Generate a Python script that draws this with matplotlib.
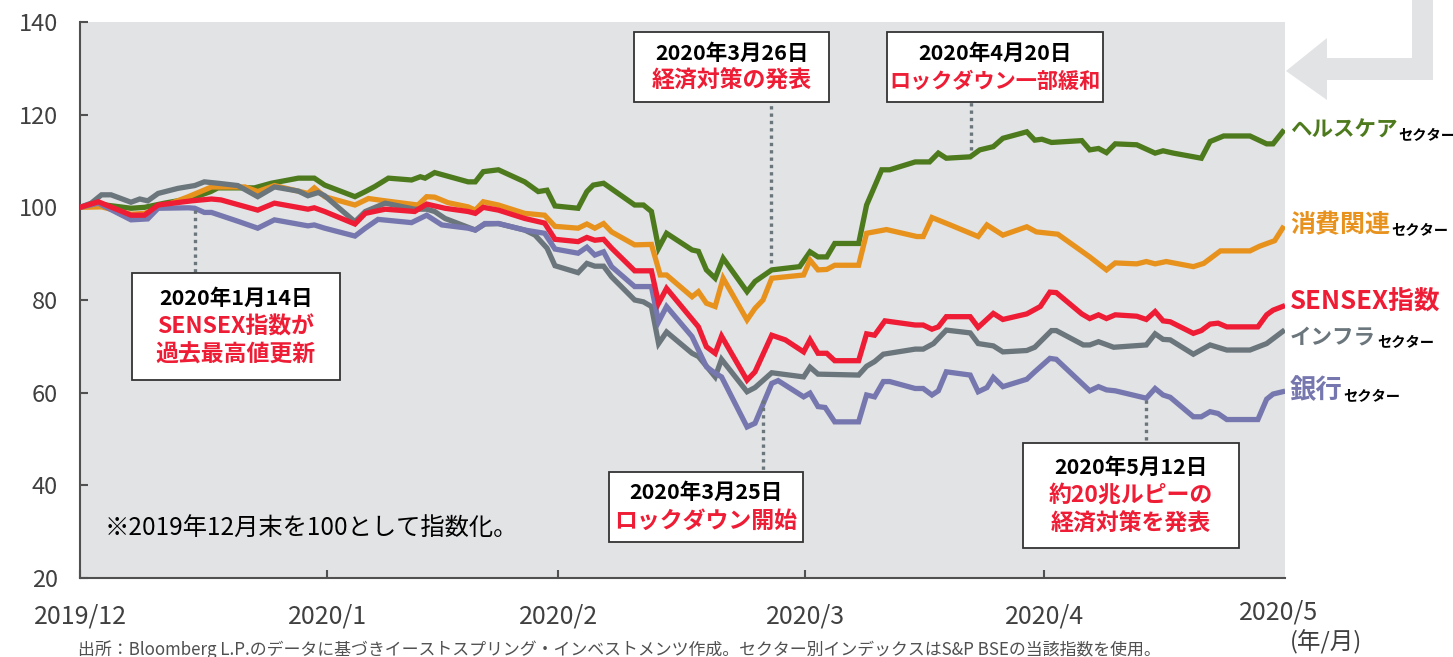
import matplotlib
matplotlib.use("Agg")
import matplotlib.pyplot as plt
from matplotlib.patches import Polygon, Rectangle

plt.rcParams['font.family'] = ['Noto Sans CJK JP', 'DejaVu Sans']

# x: days since 2019/12/31, y: index (2019/12 end = 100)
health_x = [0, 2.3, 6.4, 8.1, 10.6, 13.9, 16.4, 17.3, 21.9, 24.0, 27.4, 29.4, 30.7, 34.5, 35.8, 37.0,
            38.7, 41.6, 42.7, 43.3, 44.5, 48.7, 49.6, 50.6, 52.5, 55.8, 57.5, 58.6, 59.6, 62.5, 63.6,
            64.4, 65.7, 69.6, 70.7, 71.7, 72.6, 73.6, 76.8, 77.6, 78.6, 79.7, 80.7, 83.7, 84.7, 86.8,
            90.3, 91.6, 92.6, 93.7, 94.7, 97.7, 98.7, 100.6, 101.6, 104.8, 106.6, 107.7, 108.7, 111.7,
            112.9, 114.6, 115.8, 118.8, 119.8, 120.7, 121.9, 125.7, 126.7, 127.8, 128.8, 129.9, 132.6,
            134.9, 135.9, 137.2, 140.7, 141.8, 143.5, 146.8, 148.9, 149.7, 150.9]
health = [100, 100.7, 99.8, 100, 100.9, 101.9, 103.4, 104.2, 104.2, 105.2, 106.3, 106.3, 104.8, 102.3,
          103.4, 104.5, 106.3, 105.9, 106.6, 106.3, 107.5, 105.5, 105.5, 107.7, 108.1, 105.5, 103.4,
          103.7, 100.3, 99.8, 103.4, 104.8, 105.2, 100.5, 100.5, 99.1, 91.2, 94.4, 90.8, 90.5, 86.5,
          84.7, 89.0, 81.8, 84.0, 86.5, 87.2, 90.4, 89.3, 89.3, 92.2, 92.2, 100.5, 108.1, 108.1, 109.8,
          109.8, 111.7, 110.6, 110.9, 112.4, 113.1, 114.9, 116.3, 114.5, 114.7, 114.0, 114.4, 112.4,
          112.7, 111.8, 113.7, 113.5, 111.7, 112.2, 111.7, 110.6, 114.2, 115.4, 115.4, 113.7, 113.7, 116.3]

consumer_x = [0, 2.7, 6.4, 8.1, 13.6, 16.5, 20.7, 22.3, 24.4, 28.6, 29.4, 30.7, 34.5, 36.2, 38.3, 42.4,
              43.5, 44.5, 46.2, 48.7, 49.6, 50.6, 52.5, 55.8, 58.3, 59.6, 62.5, 63.6, 64.6, 65.7, 66.7,
              69.6, 71.7, 72.8, 73.6, 76.8, 77.6, 78.6, 79.7, 80.7, 83.7, 84.7, 85.7, 86.8, 90.8, 91.6,
              92.6, 93.7, 94.7, 97.7, 98.7, 101.2, 105.0, 105.8, 106.9, 109.2, 112.7, 113.8, 115.8, 118.8,
              120.0, 122.7, 126.7, 128.8, 129.9, 132.6, 133.8, 134.9, 136.3, 139.7, 141.0, 143.1, 146.8,
              148.0, 149.9, 150.9]
consumer = [100, 100.1, 98.5, 98.7, 102.3, 104.4, 104.4, 103.4, 104.7, 103.0, 104.2, 102.3, 100.5, 101.9,
            101.4, 100.5, 102.3, 102.2, 101.0, 100.1, 99.4, 101.2, 100.5, 98.7, 98.3, 95.9, 95.5, 96.4,
            95.5, 96.5, 94.7, 91.9, 92.0, 85.4, 85.4, 80.7, 81.8, 79.3, 78.6, 84.7, 75.7, 78.2, 80.0, 84.7,
            85.4, 88.6, 86.5, 86.6, 87.5, 87.5, 94.4, 95.2, 93.7, 93.7, 97.8, 96.2, 93.7, 96.2, 94.0, 95.8,
            94.7, 94.2, 89.3, 86.5, 88.0, 87.8, 88.3, 87.8, 88.3, 87.2, 87.9, 90.6, 90.6, 91.6, 92.8, 95.5]

sensex_x = [0, 2.3, 6.4, 8.1, 9.8, 14.0, 16.5, 17.7, 22.3, 24.4, 28.6, 29.4, 30.7, 34.5, 35.8, 38.3, 42.0,
            43.5, 45.8, 48.7, 49.6, 50.6, 52.5, 55.8, 58.3, 59.6, 62.5, 63.6, 64.6, 65.7, 66.7, 69.6, 71.7,
            72.6, 73.6, 77.6, 78.6, 79.7, 80.5, 83.7, 84.7, 86.8, 88.5, 90.8, 91.6, 92.6, 93.7, 94.7, 97.7,
            98.7, 99.7, 101.0, 104.8, 105.8, 106.9, 107.7, 108.7, 111.7, 112.7, 114.6, 115.8, 118.8, 120.5,
            121.7, 122.5, 125.7, 126.7, 127.8, 128.8, 129.9, 132.6, 133.8, 134.9, 135.9, 136.8, 139.7,
            140.7, 141.8, 142.8, 143.9, 147.8, 148.9, 149.7, 150.9]
sensex = [100, 101.2, 98.3, 98.3, 100.5, 101.4, 101.8, 101.6, 99.4, 100.9, 99.6, 99.9, 99.1, 96.4, 98.7,
          99.6, 99.1, 100.7, 99.8, 99.1, 98.7, 100.0, 99.4, 97.6, 96.6, 93.1, 92.6, 93.5, 92.9, 93.1, 91.2,
          86.3, 86.3, 79.3, 82.5, 74.2, 69.9, 68.5, 72.2, 62.7, 64.5, 72.4, 71.4, 68.8, 71.4, 68.5, 68.5,
          66.9, 66.9, 72.7, 72.4, 75.5, 74.6, 74.6, 73.7, 74.2, 76.4, 76.4, 74.1, 77.1, 75.8, 77.0, 78.6,
          81.7, 81.6, 77.0, 76.0, 76.8, 76.0, 76.8, 76.5, 75.8, 77.5, 75.5, 75.3, 72.8, 73.4, 74.8, 75.0,
          74.2, 74.2, 76.8, 77.8, 78.6]

infra_x = [0, 1.4, 2.7, 3.9, 6.4, 7.5, 8.5, 9.8, 12.3, 14.4, 15.6, 17.3, 19.8, 22.3, 24.4, 27.4, 28.6,
           29.9, 30.7, 34.5, 35.8, 38.3, 42.0, 43.5, 44.5, 45.8, 49.6, 50.8, 52.5, 55.8, 57.1, 58.6, 59.6,
           62.5, 63.6, 64.6, 65.7, 66.7, 69.6, 70.7, 71.7, 72.6, 73.6, 76.8, 77.6, 79.7, 80.5, 83.7, 84.7,
           86.8, 90.8, 91.6, 92.6, 97.7, 98.7, 99.7, 100.8, 104.8, 105.8, 107.1, 108.7, 111.7, 112.7,
           114.6, 115.8, 118.8, 119.8, 121.9, 122.5, 125.9, 126.7, 127.8, 129.7, 133.8, 134.9, 135.9,
           136.8, 139.7, 141.8, 143.9, 146.8, 148.9, 150.9]
infra = [100, 100.9, 102.7, 102.7, 101.1, 101.8, 101.4, 103.0, 104.1, 104.7, 105.5, 105.2, 104.7, 102.3,
         104.4, 103.5, 102.5, 103.2, 102.5, 96.9, 99.1, 100.9, 99.6, 99.6, 99.1, 97.6, 95.1, 96.4, 96.5,
         95.1, 94.0, 91.2, 87.4, 85.9, 87.9, 87.3, 87.3, 85.0, 80.0, 79.6, 78.6, 70.6, 73.1, 68.5, 67.8,
         63.4, 67.2, 60.2, 61.1, 64.3, 63.4, 65.5, 64.0, 63.8, 65.7, 66.7, 68.3, 69.4, 69.4, 70.6, 73.5,
         72.9, 70.6, 70.1, 68.8, 69.1, 69.8, 73.4, 73.4, 70.3, 70.3, 71.0, 69.8, 70.3, 72.7, 71.5, 71.4,
         68.3, 70.3, 69.2, 69.2, 70.6, 73.2]

bank_x = [0, 2.3, 6.4, 8.5, 9.8, 13.6, 14.4, 15.6, 16.5, 19.8, 22.3, 24.4, 28.6, 29.4, 30.7, 34.5, 35.8,
          37.4, 41.6, 43.5, 45.4, 48.7, 49.6, 50.8, 52.5, 55.8, 58.3, 59.6, 62.5, 63.6, 64.6, 65.7, 66.7,
          69.6, 71.7, 72.6, 73.6, 76.8, 78.6, 79.7, 80.5, 83.7, 84.7, 86.8, 87.6, 90.8, 91.6, 92.6, 93.5,
          94.7, 97.7, 98.7, 99.7, 100.8, 101.6, 104.8, 105.8, 106.9, 107.7, 108.7, 111.7, 112.7, 113.8,
          114.6, 115.8, 118.8, 119.8, 121.7, 122.5, 126.7, 127.8, 128.8, 129.9, 133.8, 134.9, 135.9,
          136.8, 139.7, 140.7, 141.8, 142.8, 143.9, 147.8, 148.9, 149.7, 150.9]
bank = [100, 100.9, 97.3, 97.5, 99.8, 99.9, 99.8, 98.9, 98.9, 97.0, 95.5, 97.3, 96.0, 96.2, 95.5, 93.8,
        95.5, 97.4, 96.7, 98.3, 96.2, 95.5, 95.1, 96.5, 96.5, 95.1, 94.4, 91.0, 90.1, 91.4, 89.7, 90.4,
        87.2, 82.9, 82.9, 75.3, 78.6, 72.1, 65.6, 64.2, 63.4, 52.6, 53.4, 62.0, 62.6, 59.1, 59.9, 57.0,
        56.8, 53.7, 53.7, 59.5, 59.1, 62.4, 62.4, 60.9, 60.9, 59.5, 60.4, 64.5, 63.8, 60.2, 61.1, 63.3,
        61.3, 62.9, 64.5, 67.4, 67.2, 60.4, 61.3, 60.6, 60.4, 58.8, 60.9, 59.5, 59.0, 54.8, 54.8, 55.9,
        55.5, 54.2, 54.2, 58.6, 59.7, 60.2]

month_ticks = [0, 31, 60, 91, 121]
month_labels = ["2019/12", "2020/1", "2020/2", "2020/3", "2020/4"]

# (day of event, date text, event lines)
events = [
    (14.4, "2020年1月14日", ["SENSEX指数が", "過去最高値更新"]),
    (86.7, "2020年3月26日", ["経済対策の発表"]),
    (111.8, "2020年4月20日", ["ロックダウン一部緩和"]),
    (85.7, "2020年3月25日", ["ロックダウン開始"]),
    (133.8, "2020年5月12日", ["約20兆ルピーの", "経済対策を発表"]),
]

GREEN, ORANGE, RED, GRAY, PURPLE = "#4E7A1E", "#E8921E", "#EE1C34", "#6A767C", "#7677AE"
W, H = 1453, 657


def fx(x, y):
    return x / W, 1 - y / H


fig = plt.figure(figsize=(14.53, 6.57), dpi=100)
ax = fig.add_axes([80 / W, 79 / H, 1205 / W, 556 / H])
ax.set_facecolor("#E2E3E5")

for xs, ys, c in [(health_x, health, GREEN), (consumer_x, consumer, ORANGE),
                  (infra_x, infra, GRAY), (bank_x, bank, PURPLE), (sensex_x, sensex, RED)]:
    ax.plot(xs, ys, color=c, lw=3.8, solid_joinstyle="miter", zorder=3)

ax.set_xlim(0, 151.2)
ax.set_ylim(20, 140)
ax.set_yticks(range(20, 141, 20))
ax.set_xticks(month_ticks)
ax.set_xticklabels(month_labels)
for s in ["top", "right"]:
    ax.spines[s].set_visible(False)
for s in ["left", "bottom"]:
    ax.spines[s].set_color("#505050")
    ax.spines[s].set_linewidth(1.5)
ax.tick_params(axis="y", direction="in", length=6, width=1.5, color="#505050",
               labelsize=17, labelcolor="#404040", pad=16)
ax.tick_params(axis="x", direction="in", length=6, width=1.5, color="#505050",
               labelsize=18, labelcolor="#404040", pad=18)

# annotation boxes: (x0, x1, y0, y1) in data units, dotted line start/end, red text size
boxes = [
    (6.5, 32.6, 62.7, 85.8, 99.4, 85.8, 16.5),
    (69.5, 94.0, 122.7, 137.8, 88.0, 122.7, 16.5),
    (101.3, 128.4, 122.7, 137.8, 112.4, 122.7, 15.2),
    (66.4, 90.7, 27.8, 42.9, 58.4, 42.9, 16.5),
    (118.3, 145.4, 26.5, 49.1, 58.4, 49.1, 16.5),
]
gap = 6.1
for (day, date, lines), (x0, x1, y0, y1, tip, base, fs) in zip(events, boxes):
    ax.plot([day, day], [tip, base], color=GRAY, lw=2.4, ls=(0, (1, 1.2)), zorder=4)
    ax.add_patch(Rectangle((x0, y0), x1 - x0, y1 - y0, facecolor="white",
                           edgecolor="#333333", lw=1.3, zorder=5))
    n = len(lines) + 1
    cy = (y0 + y1) / 2
    top = cy + gap * (n - 1) / 2
    cx = (x0 + x1) / 2
    ax.text(cx, top, date, ha="center", va="center", fontsize=15.5, fontweight="bold",
            color="black", zorder=6)
    for i, t in enumerate(lines):
        ax.text(cx, top - gap * (i + 1), t, ha="center", va="center", fontsize=fs,
                fontweight="bold", color=RED, zorder=6)

ax.text(3.1, 30.6, "※2019年12月末を100として指数化。", fontsize=17.5, color="black", va="center")

# right labels: (name, colour, y centre px, font size, suffix)
labels = [("ヘルスケア", GREEN, 130, 15.5, True), ("消費関連", ORANGE, 225, 18, True),
          ("SENSEX指数", RED, 302, 18.5, False), ("インフラ", GRAY, 337, 15.5, True),
          ("銀行", PURPLE, 391, 19, True)]
fig.canvas.draw()
renderer = fig.canvas.get_renderer()
for name, c, y, fs, suffix in labels:
    t = fig.text(*fx(1290, y), name, color=c, fontsize=fs, fontweight="bold", va="center")
    if suffix:
        bb = t.get_window_extent(renderer)
        fig.text(bb.x1 / W + 1 / W, 1 - (y + 6) / H, "セクター", color="black",
                 fontsize=10.3, fontweight="bold", va="center")

fig.text(*fx(1279, 613), "2020/5", fontsize=18, color="#404040", ha="center", va="center")
fig.text(*fx(1326, 642), "(年/月)", fontsize=17, color="#404040", ha="center", va="center")
fig.text(*fx(78, 650), "出所：Bloomberg L.P.のデータに基づきイーストスプリング・インベストメンツ作成。"
         "セクター別インデックスはS&P BSEの当該指数を使用。", fontsize=12.2, color="#505050", va="center")

# bent arrow decoration at top right
arrow = [(1433, 0), (1433, 80), (1327, 80), (1327, 100), (1286, 71), (1327, 38),
         (1327, 58), (1412, 58), (1412, 0)]
fig.patches.append(Polygon([fx(x, y) for x, y in arrow], closed=True, facecolor="#E2E3E5",
                           edgecolor="none", transform=fig.transFigure, figure=fig))

fig.savefig("out.png", dpi=100)
